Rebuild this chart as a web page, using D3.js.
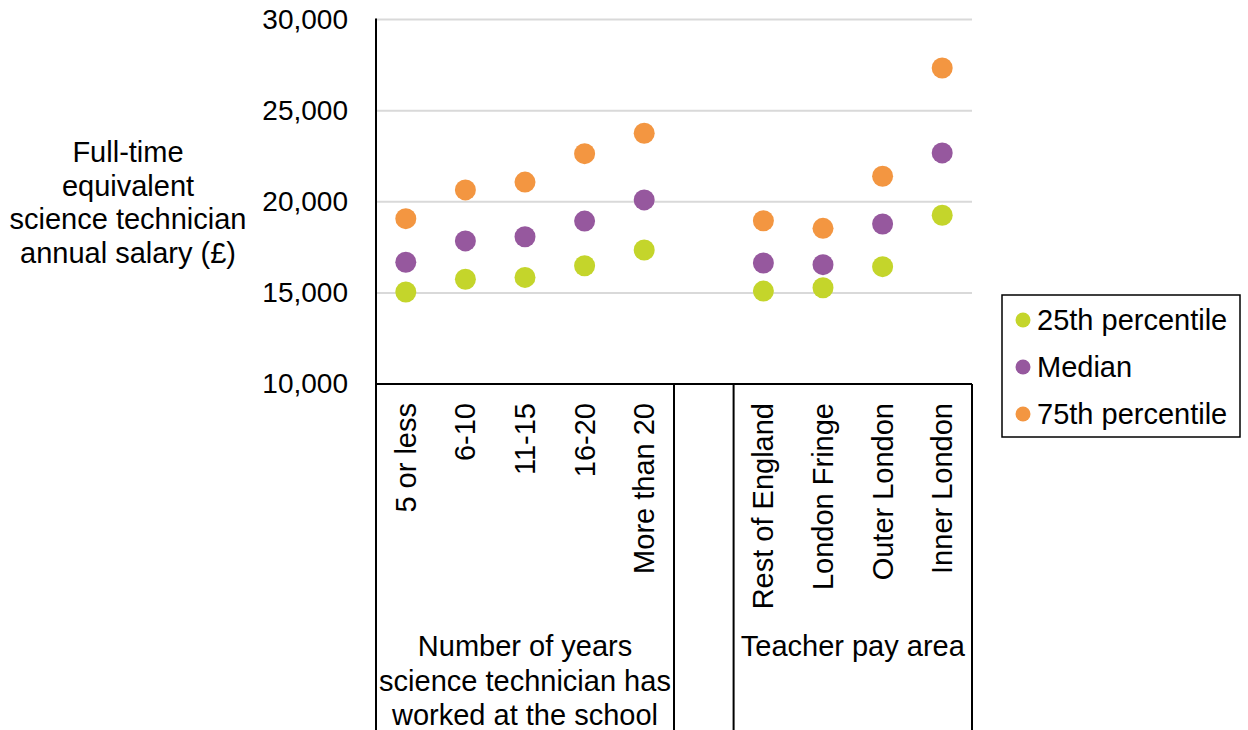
<!DOCTYPE html>
<html>
<head>
<meta charset="utf-8">
<script src="https://cdn.jsdelivr.net/npm/d3@7"></script>
<style>
  html, body { margin: 0; padding: 0; background: #fff; }
  svg { display: block; font-family: "Liberation Sans", Arial, sans-serif; }
</style>
</head>
<body>
<svg id="chart" width="1248" height="730"></svg>
<script>
// Category slots along the x axis; "gap" is the empty slot between the two groups
const yearsCats = ["5 or less", "6-10", "11-15", "16-20", "More than 20"];
const areaCats = ["Rest of England", "London Fringe", "Outer London", "Inner London"];
const slots = [...yearsCats, "gap", ...areaCats];

// Salary values (£), in the order of the categories above (gap excluded)
const p25 = [15050, 15750, 15850, 16490, 17350, 15100, 15280, 16440, 19260];
const median = [16680, 17850, 18080, 18940, 20100, 16640, 16550, 18780, 22680];
const p75 = [19070, 20650, 21080, 22640, 23760, 18960, 18540, 21400, 27340];

const yTicks = [10000, 15000, 20000, 25000, 30000];
const seriesNames = ["25th percentile", "Median", "75th percentile"];
const seriesColors = ["#c4d52b", "#96589e", "#f39641"];
const groupLabels = [
  ["Number of years", "science technician has", "worked at the school"],
  ["Teacher pay area"]
];
const yTitle = ["Full-time", "equivalent", "science technician", "annual salary (£)"];

const svg = d3.select("#chart");
const plotLeft = 376, plotRight = 972, plotTop = 19.5, plotBottom = 384;
const labelSize = 29;

const x = d3.scaleBand().domain(slots).range([plotLeft, plotRight]).padding(0);
const y = d3.scaleLinear().domain([10000, 30000]).range([plotBottom, plotTop]);

// Gridlines
svg.append("g").selectAll("line").data(yTicks.filter(d => d > 10000)).join("line")
  .attr("x1", plotLeft).attr("x2", plotRight)
  .attr("y1", d => y(d)).attr("y2", d => y(d))
  .attr("stroke", "#d9d9d9").attr("stroke-width", 2);

// Y axis tick labels
const yAxis = d3.axisLeft(y).tickValues(yTicks).tickSize(0).tickPadding(28)
  .tickFormat(d3.format(","));
const yg = svg.append("g").attr("transform", `translate(${plotLeft},0)`).call(yAxis);
yg.select(".domain").remove();
yg.selectAll("text").attr("font-size", 28).attr("fill", "#000")
  .attr("font-family", "Liberation Sans, Arial, sans-serif");

// Y axis title
svg.append("text").attr("text-anchor", "middle").attr("font-size", labelSize).attr("fill", "#000")
  .selectAll("tspan").data(yTitle).join("tspan")
  .attr("x", 128).attr("y", (d, i) => 162 + i * 33.5).text(d => d);

// Axis and category box lines
const lineStyle = s => s.attr("stroke", "#000").attr("stroke-width", 2).attr("fill", "none");
svg.append("line").call(lineStyle).attr("x1", plotLeft).attr("x2", plotLeft).attr("y1", plotTop - 1).attr("y2", 730);
svg.append("line").call(lineStyle).attr("x1", plotLeft).attr("x2", plotRight).attr("y1", plotBottom).attr("y2", plotBottom);
const gapStart = x("gap"), gapEnd = x("gap") + x.bandwidth();
[gapStart, gapEnd, plotRight].forEach(px => {
  svg.append("line").call(lineStyle).attr("x1", px).attr("x2", px).attr("y1", plotBottom).attr("y2", 730);
});

// Rotated category labels
const cats = [...yearsCats, ...areaCats];
svg.append("g").selectAll("text").data(cats).join("text")
  .attr("transform", d => `translate(${x(d) + x.bandwidth() / 2 + 10},403) rotate(-90)`)
  .attr("text-anchor", "end").attr("font-size", labelSize).attr("fill", "#000")
  .text(d => d);

// Group labels
const groupCenters = [
  (plotLeft + gapStart) / 2,
  (gapEnd + plotRight) / 2
];
groupLabels.forEach((lines, gi) => {
  svg.append("text").attr("text-anchor", "middle").attr("font-size", labelSize).attr("fill", "#000")
    .selectAll("tspan").data(lines).join("tspan")
    .attr("x", groupCenters[gi]).attr("y", (d, i) => 656 + i * 34.5).text(d => d);
});

// Points
const series = [p25, median, p75];
series.forEach((vals, si) => {
  svg.append("g").selectAll("circle").data(vals).join("circle")
    .attr("cx", (d, i) => x(cats[i]) + x.bandwidth() / 2)
    .attr("cy", d => y(d))
    .attr("r", 10.5)
    .attr("fill", seriesColors[si]);
});

// Legend
const lg = svg.append("g");
lg.append("rect").attr("x", 1002).attr("y", 295).attr("width", 238).attr("height", 142)
  .attr("fill", "#fff").attr("stroke", "#000").attr("stroke-width", 1.5);
seriesNames.forEach((name, i) => {
  const cy = 320 + i * 47;
  lg.append("circle").attr("cx", 1023).attr("cy", cy).attr("r", 7.5).attr("fill", seriesColors[i]);
  lg.append("text").attr("x", 1037).attr("y", cy + 9.5).attr("font-size", labelSize).attr("fill", "#000").text(name);
});
</script>
</body>
</html>
